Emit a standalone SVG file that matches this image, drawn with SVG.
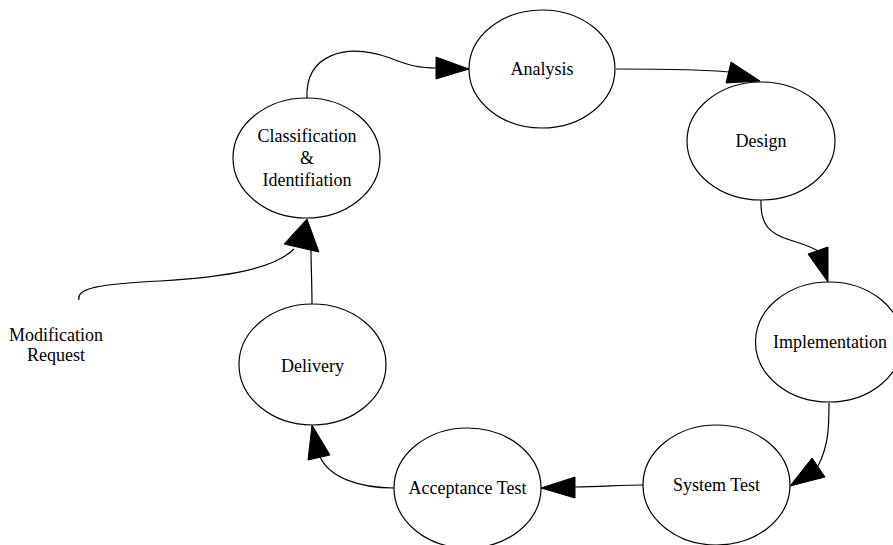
<svg xmlns="http://www.w3.org/2000/svg" width="893" height="545" viewBox="0 0 893 545">
  <style>
    .node ellipse { fill: #ffffff; stroke: #000000; stroke-width: 1.2; }
    .node text, .label { font-family: "Liberation Serif", "Times New Roman", serif; font-size: 18px; fill: #000000; text-anchor: middle; }
    .edge { fill: none; stroke: #000000; stroke-width: 1.2; }
    .head { fill: #000000; stroke: #000000; stroke-width: 1; stroke-linejoin: miter; }
  </style>
  <rect width="893" height="545" fill="#ffffff"/>

  <!-- connectors -->
  <g id="connectors">
    <path class="edge" d="M307,98 C305,55 345,42 390,58 C410,66 420,68 437,68"/>
    <polygon class="head" points="436,57 436,79 469,69"/>

    <path class="edge" d="M616,69 C660,69 700,69 729,72"/>
    <polygon class="head" points="731,62 726,83 760,81"/>

    <path class="edge" d="M761,200 C760,225 770,234 790,240 C800,243 810,246 818,251"/>
    <polygon class="head" points="808,254 828,247 828,282"/>

    <path class="edge" d="M829,403 C829,425 829,445 818,466"/>
    <polygon class="head" points="812,458 825,477 790,486"/>

    <path class="edge" d="M643,485 C620,485 600,487 575,487"/>
    <polygon class="head" points="575,477 575,498 541,488"/>

    <path class="edge" d="M394,488 C360,488 330,478 320,457"/>
    <polygon class="head" points="308,460 330,455 312,425"/>

    <path class="edge" d="M312,304 C312,285 311,265 311,250"/>
    <path class="edge" d="M79,300 C76,288 100,284 160,281 C230,277 275,268 294,249"/>
    <polygon class="head" points="284,244 319,252 307,219"/>
  </g>

  <!-- nodes -->
  <g id="classification" class="node">
    <ellipse cx="306.5" cy="158" rx="73.5" ry="60"/>
    <text x="307" y="142">Classification</text>
    <text x="307" y="164">&amp;</text>
    <text x="307" y="186">Identifiation</text>
  </g>
  <g id="analysis" class="node">
    <ellipse cx="542" cy="69" rx="73" ry="59"/>
    <text x="542" y="75">Analysis</text>
  </g>
  <g id="design" class="node">
    <ellipse cx="761" cy="141" rx="74" ry="59"/>
    <text x="761" y="147">Design</text>
  </g>
  <g id="implementation" class="node">
    <ellipse cx="829" cy="342" rx="73.5" ry="60"/>
    <text x="830" y="348">Implementation</text>
  </g>
  <g id="system-test" class="node">
    <ellipse cx="716.5" cy="485" rx="73.5" ry="60"/>
    <text x="716.5" y="491">System Test</text>
  </g>
  <g id="acceptance-test" class="node">
    <ellipse cx="467.5" cy="488" rx="73.5" ry="60"/>
    <text x="467.5" y="494">Acceptance Test</text>
  </g>
  <g id="delivery" class="node">
    <ellipse cx="312.5" cy="364.5" rx="73.5" ry="60.5"/>
    <text x="312.5" y="372">Delivery</text>
  </g>
  <g id="modification-request">
    <text class="label" x="56" y="341">Modification</text>
    <text class="label" x="56" y="361">Request</text>
  </g>
</svg>
